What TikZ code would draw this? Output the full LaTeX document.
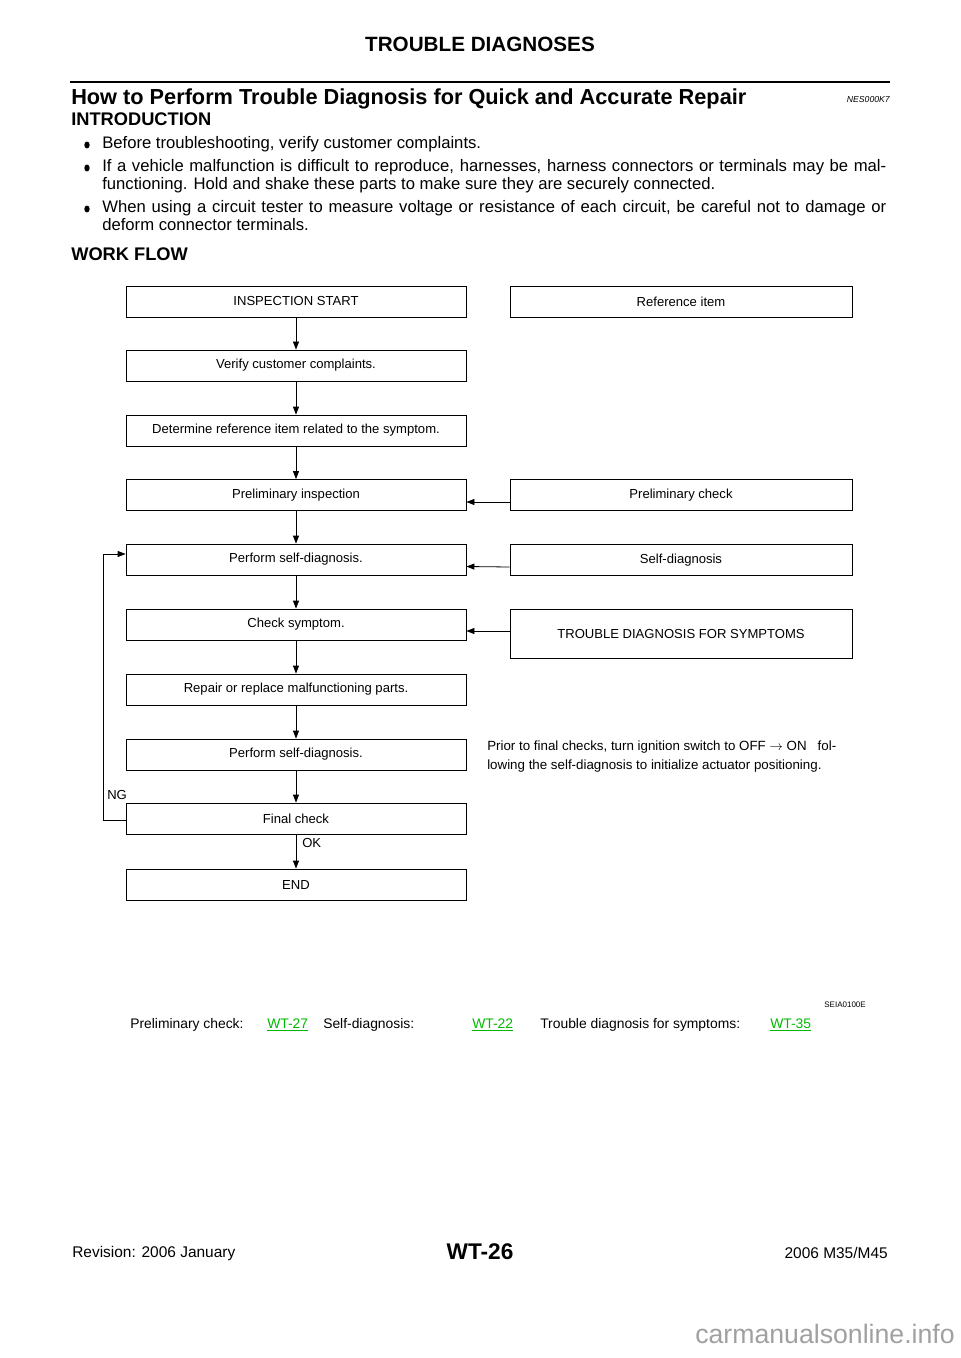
\documentclass[tikz,border=0pt]{standalone}
\usepackage{fontspec}
\setmainfont{Liberation Sans}
\usetikzlibrary{arrows.meta,calc}
\definecolor{linkgreen}{RGB}{0,185,0}
\definecolor{wmgray}{RGB}{160,160,160}
\begin{document}
\begin{tikzpicture}[x=0.75pt,y=-0.75pt,
  lbox/.style={draw, line width=0.6pt, minimum width=255pt, minimum height=23.25pt, inner sep=0pt, font=\fontsize{9.8}{11.5}\selectfont},
  rbox/.style={lbox, minimum width=256.5pt},
  arr/.style={line width=0.6pt, -{Triangle[length=6pt,width=4.5pt]}},
  body/.style={anchor=base west, inner sep=0pt, font=\fontsize{12.5}{15}\selectfont},
  note/.style={anchor=west, inner sep=0pt, font=\fontsize{10}{12}\selectfont},
  link/.style={anchor=west, inner sep=0pt, font=\fontsize{10.4}{12}\selectfont},
  foot/.style={inner sep=0pt, font=\fontsize{11.6}{14}\selectfont}]
\useasboundingbox (0,0) rectangle (960,1358);

% header
\node[font=\bfseries\fontsize{15.5}{18}\selectfont, inner sep=0pt] (hdr) at (480,44) {TROUBLE DIAGNOSES};
\draw[line width=2.2pt] (70,82) -- (890,82);
\node[anchor=west, inner sep=0pt, font=\bfseries\fontsize{16.3}{19}\selectfont] (ttl) at (71,99) {How to Perform Trouble Diagnosis for Quick and Accurate Repair};
\node[anchor=east, inner sep=0pt, font=\itshape\fontsize{6.5}{8}\selectfont] (code) at (890,100) {NES000K7};
\node[anchor=west, inner sep=0pt, font=\bfseries\fontsize{13.7}{16}\selectfont] (intro) at (71,119) {INTRODUCTION};

% bullets
\fill (87,145) ellipse (2pt and 2.6pt);
\fill (87,168) ellipse (2pt and 2.6pt);
\fill (87,209) ellipse (2pt and 2.6pt);
\node[body] (b1) at (102,149) {Before troubleshooting, verify customer complaints.};
\node[body] (b2a) at (102,172) {\makebox[588pt][s]{If a vehicle malfunction is difficult to reproduce, harnesses, harness connectors or terminals may be mal-}};
\node[body] (b2b) at (102,190) {functioning. Hold and shake these parts to make sure they are securely connected.};
\node[body] (b3a) at (102,213) {\makebox[588pt][s]{When using a circuit tester to measure voltage or resistance of each circuit, be careful not to damage or}};
\node[body] (b3b) at (102,231) {deform connector terminals.};

\node[anchor=west, inner sep=0pt, font=\bfseries\fontsize{13.7}{16}\selectfont] (wf) at (71,254) {WORK FLOW};

% left column
\node[lbox] (s1) at (296,301.5) {INSPECTION START};
\node[lbox] (s2) at (296,365.5) {Verify customer complaints.};
\node[lbox] (s3) at (296,430.5) {Determine reference item related to the symptom.};
\node[lbox] (s4) at (296,495) {Preliminary inspection};
\node[lbox] (s5) at (296,559.5) {Perform self-diagnosis.};
\node[lbox] (s6) at (296,624.5) {Check symptom.};
\node[lbox] (s7) at (296,689.5) {Repair or replace malfunctioning parts.};
\node[lbox] (s8) at (296,754.5) {Perform self-diagnosis.};
\node[lbox] (s9) at (296,818.5) {Final check};
\node[lbox] (s10) at (296,884.5) {END};

% right column
\node[rbox] (r1) at (681,301.5) {Reference item};
\node[rbox] (r2) at (681,495) {Preliminary check};
\node[rbox] (r3) at (681,560) {Self-diagnosis};
\node[rbox, minimum height=36.75pt] (r4) at (681,633.5) {TROUBLE DIAGNOSIS FOR SYMPTOMS};

% vertical arrows
\foreach \a/\b in {s1/s2,s2/s3,s3/s4,s4/s5,s5/s6,s6/s7,s7/s8,s8/s9,s9/s10}
  \draw[arr] (\a.south) -- (\b.north);

% horizontal arrows
\draw[arr] ($(r2.west)+(0,7)$) -- ($(s4.east)+(0,7)$);
\draw[arr] ($(r3.west)+(0,7)$) -- ($(s5.east)+(0,7)$);
\draw[arr] ($(r4.west)+(0,-2.5)$) -- ($(s6.east)+(0,6.5)$);

% feedback loop
\draw[arr] ($(s9.west)+(0,1.5)$) -- ++(-22,0) |- ($(s5.west)+(0,-5.5)$);
\node[anchor=west, inner sep=0pt, font=\fontsize{9.8}{11.5}\selectfont] (ng) at (107,795) {NG};
\node[anchor=west, inner sep=0pt, font=\fontsize{9.8}{11.5}\selectfont] (ok) at (302,843) {OK};

% note
\node[note] (n1) at (487,747) {Prior to final checks, turn ignition switch to OFF $\rightarrow$ ON\ \ \ fol-};
\node[note] (n2) at (487,766) {lowing the self-diagnosis to initialize actuator positioning.};

\node[anchor=east, inner sep=0pt, font=\fontsize{6}{7}\selectfont] (sei) at (866,1005) {SEIA0100E};

% links
\node[link] (l1) at (130,1025) {Preliminary check:};
\node[link, text=linkgreen] (l2) at (267,1025) {\underline{WT-27}};
\node[link] (l3) at (323,1025) {Self-diagnosis:};
\node[link, text=linkgreen] (l4) at (472,1025) {\underline{WT-22}};
\node[link] (l5) at (540,1025) {Trouble diagnosis for symptoms:};
\node[link, text=linkgreen] (l6) at (770,1025) {\underline{WT-35}};

% footer
\node[foot, anchor=west] (f1) at (72,1253) {Revision: 2006 January};
\node[inner sep=0pt, font=\bfseries\fontsize{17}{20}\selectfont] (f2) at (480,1252) {WT-26};
\node[foot, anchor=east] (f3) at (888,1253) {2006 M35/M45};
\node[anchor=east, inner sep=0pt, text=wmgray, font=\fontsize{20}{24}\selectfont] (wm) at (955,1334) {carmanualsonline.info};
\end{tikzpicture}
\end{document}
